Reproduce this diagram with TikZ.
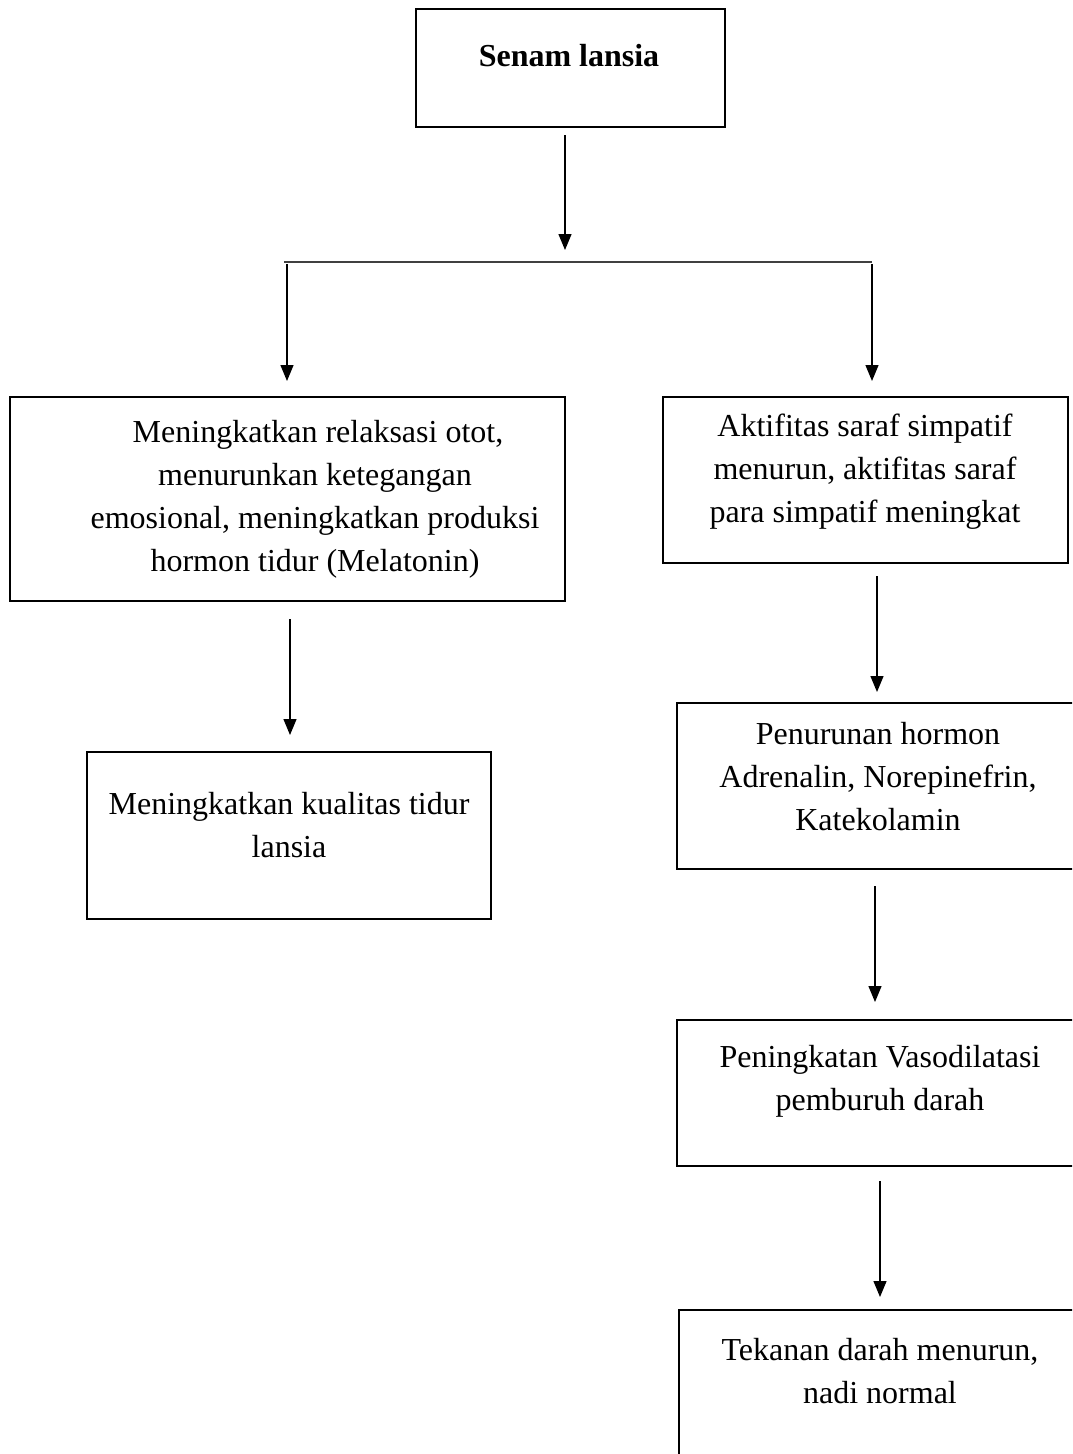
\documentclass[tikz,border=0pt]{standalone}
\usepackage{fontspec}
\setmainfont{Liberation Serif}
\usetikzlibrary{arrows.meta}
\begin{document}
\begin{tikzpicture}[x=1pt,y=-1pt,
  boxst/.style={draw, line width=2.4pt, inner sep=0pt},
  txt/.style={font=\fontsize{32}{43}\selectfont, align=center, inner sep=0pt},
  arr/.style={line width=1.3pt, -{Triangle[width=13pt,length=16pt]}},
  hline/.style={line width=1.2pt, draw=black!75}]
\useasboundingbox (0,0) rectangle (1072,1454);
\clip (0,0) rectangle (1072,1454);
% boxes
\node[boxst, minimum width=309pt, minimum height=118pt] (top) at (570.5,68) {};
\node[boxst, minimum width=555pt, minimum height=204pt] (left1) at (287.5,499) {};
\node[boxst, minimum width=405pt, minimum height=166pt] (right1) at (865.5,480) {};
\node[boxst, minimum width=404pt, minimum height=167pt] (left2) at (289,835.5) {};
\node[boxst, minimum width=403pt, minimum height=166pt] (right2) at (878.5,786) {};
\node[boxst, minimum width=405pt, minimum height=146pt] (right3) at (879.5,1093) {};
\node[boxst, minimum width=403pt, minimum height=170pt] (right4) at (880.5,1395) {};
% texts
\node[txt, font=\fontsize{32}{43}\selectfont\bfseries] (ttop) at (569,56) {Senam lansia};
\node[txt] (tleft1) at (315,499) {\hspace*{6pt}Meningkatkan relaksasi otot,\\menurunkan ketegangan\\emosional, meningkatkan produksi\\hormon tidur (Melatonin)};
\node[txt] (tright1) at (865,472) {Aktifitas saraf simpatif\\menurun, aktifitas saraf\\para simpatif meningkat};
\node[txt] (tleft2) at (289,825.5) {Meningkatkan kualitas tidur\\lansia};
\node[txt] (tright2) at (878,777) {Penurunan hormon\\Adrenalin, Norepinefrin,\\Katekolamin};
\node[txt] (tright3) at (880,1081.5) {Peningkatan Vasodilatasi\\pemburuh darah};
\node[txt] (tright4) at (880,1371) {Tekanan darah menurun,\\nadi normal};
% connector coordinates
\coordinate (a1s) at (565,135);
\coordinate (a1e) at (565,250);
\coordinate (hl) at (284,262);
\coordinate (hr) at (872,262);
\coordinate (a2s) at (287,264);
\coordinate (a2e) at (287,381);
\coordinate (a3s) at (872,264);
\coordinate (a3e) at (872,381);
\coordinate (a4s) at (290,619);
\coordinate (a4e) at (290,735);
\coordinate (a5s) at (877,576);
\coordinate (a5e) at (877,692);
\coordinate (a6s) at (875,886);
\coordinate (a6e) at (875,1002);
\coordinate (a7s) at (880,1181);
\coordinate (a7e) at (880,1297);
% connectors
\draw[arr] (a1s) -- (a1e);
\draw[hline] (hl) -- (hr);
\draw[arr] (a2s) -- (a2e);
\draw[arr] (a3s) -- (a3e);
\draw[arr] (a4s) -- (a4e);
\draw[arr] (a5s) -- (a5e);
\draw[arr] (a6s) -- (a6e);
\draw[arr] (a7s) -- (a7e);
\end{tikzpicture}
\end{document}
